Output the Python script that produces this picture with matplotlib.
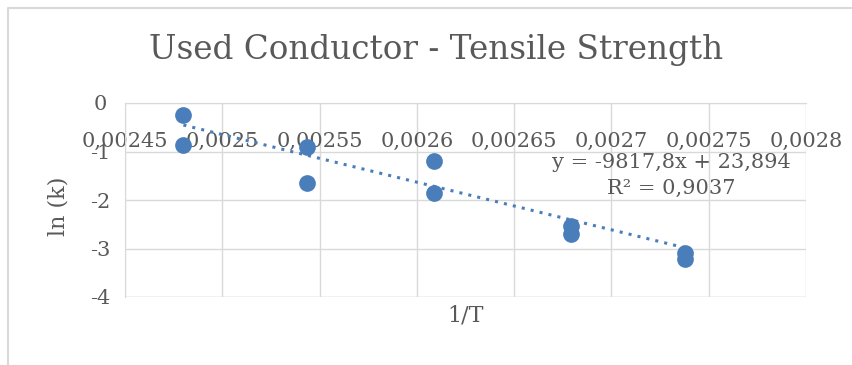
import matplotlib.pyplot as plt
from matplotlib.lines import Line2D
import numpy as np

# data
inv_T = [0.002480, 0.002480, 0.0025435, 0.0025435, 0.002609, 0.002609,
         0.002679, 0.002679, 0.002738, 0.002738]
ln_k = [-0.25, -0.87, -0.91, -1.65, -1.20, -1.86, -2.54, -2.70, -3.09, -3.22]
slope = -9817.8
intercept = 23.894
r2 = 0.9037
x_ticks = [0.00245, 0.0025, 0.00255, 0.0026, 0.00265, 0.0027, 0.00275, 0.0028]
x_labels = ['0,00245', '0,0025', '0,00255', '0,0026', '0,00265', '0,0027', '0,00275', '0,0028']
y_ticks = [0, -1, -2, -3, -4]

plt.rcParams['font.family'] = ['DejaVu Serif']
txt = '#595959'
blue = '#4a7ebb'
grid = '#d9d9d9'

fig = plt.figure(figsize=(8.53, 3.65), dpi=100)
# chart area border: only top and left edges are visible
fig.lines.append(Line2D([8 / 853, 8 / 853, 1], [0, 1 - 8 / 365, 1 - 8 / 365],
                        transform=fig.transFigure, color=grid, linewidth=1.5))
ax = fig.add_axes([125 / 853, 1 - 297 / 365, 681 / 853, 194 / 365])

ax.scatter(inv_T, ln_k, s=145, color=blue, zorder=3, linewidths=0)
xs = np.array([min(inv_T), max(inv_T)])
ax.plot(xs, slope * xs + intercept, linestyle=(0, (1, 2)), linewidth=2.2, color=blue, zorder=2)

ax.set_xlim(0.00245, 0.0028)
ax.set_ylim(-4, 0)
ax.set_xticks(x_ticks)
ax.set_xticklabels(x_labels)
ax.set_yticks(y_ticks)
ax.set_yticklabels(['0', '-1', '-2', '-3', '-4'])
ax.grid(True, color=grid, linewidth=1)
ax.set_axisbelow(True)
for s in ['top', 'right']:
    ax.spines[s].set_visible(False)
ax.spines['left'].set_color(grid)
ax.spines['bottom'].set_position(('data', 0))
ax.spines['bottom'].set_color(grid)
ax.tick_params(axis='both', colors=txt, labelsize=15, length=0)
ax.tick_params(axis='x', pad=21)
ax.tick_params(axis='y', pad=18)
for lab in ax.get_yticklabels():
    lab.set_horizontalalignment('center')
ax.axhline(-4, color=grid, linewidth=1)

ax.set_xlabel('1/T', color=txt, fontsize=16)
ax.xaxis.set_label_coords(0.5, -0.04, transform=ax.transAxes)
ax.xaxis.label.set_verticalalignment('top')
ax.set_ylabel('ln (k)', color=txt, fontsize=16)
ax.yaxis.set_label_coords(58 / 853, 1 - 206 / 365, transform=fig.transFigure)
ax.yaxis.label.set_verticalalignment('center')
fig.text(0.511, 1 - 50 / 365, 'Used Conductor - Tensile Strength', color=txt, fontsize=23.5,
         ha='center', va='center')

ax.text(0.0027306, -1.49, 'y = -9817,8x + 23,894\nR² = 0,9037', color=txt, fontsize=15,
        ha='center', va='center', linespacing=1.45, multialignment='center')

fig.savefig('out.png', dpi=100)
